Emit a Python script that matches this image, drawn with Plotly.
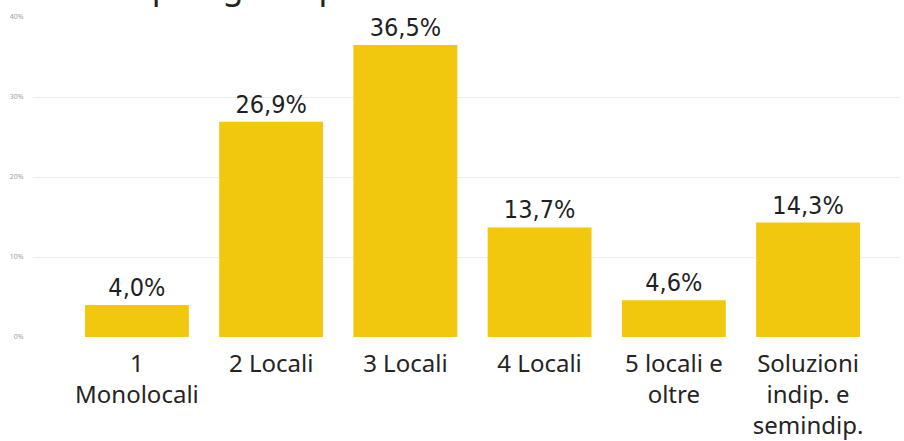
import plotly.graph_objects as go

categories = ["1<br>Monolocali", "2 Locali", "3 Locali", "4 Locali", "5 locali e<br>oltre", "Soluzioni<br>indip. e<br>semindip."]
values = [4.0, 26.9, 36.5, 13.7, 4.6, 14.3]
value_labels = ["4,0%", "26,9%", "36,5%", "13,7%", "4,6%", "14,3%"]
tick_vals = [0, 10, 20, 30, 40]
tick_text = ["0%", "10%", "20%", "30%", "40%"]
title_text = "Tipologia di prodotto richiesto"

fig = go.Figure(go.Bar(
    x=list(range(len(categories))),
    y=values,
    width=0.774,
    marker=dict(color="#F2C80F", line=dict(width=0)),
    text=value_labels,
    textposition="outside",
    textfont=dict(family="DejaVu Sans Condensed", size=25, color="#1F1F1F"),
    cliponaxis=False,
    hoverinfo="skip",
))

fig.add_annotation(
    text=title_text, xref="paper", yref="paper",
    x=(122 - 33) / 867, y=1, xanchor="left", yanchor="bottom",
    yshift=6, showarrow=False,
    font=dict(family="Noto Sans", size=34, color="#252423"),
)

fig.update_layout(
    width=904, height=441,
    margin=dict(l=33, r=4, t=17, b=104),
    paper_bgcolor="white", plot_bgcolor="white",
    showlegend=False,
    bargap=0.226,
    xaxis=dict(
        range=[-0.774, 5.685],
        tickmode="array", tickvals=list(range(len(categories))), ticktext=categories,
        tickfont=dict(family="Noto Sans", size=24, color="#252423"),
        showgrid=False, zeroline=False, showline=False,
        ticks="outside", ticklen=5, tickcolor="rgba(0,0,0,0)",
        automargin=False,
    ),
    yaxis=dict(
        range=[0, 40],
        tickmode="array", tickvals=tick_vals, ticktext=tick_text,
        tickfont=dict(family="Noto Sans", size=7, color="#A0A0A0"),
        showgrid=True, gridcolor="#EEEEEE", gridwidth=1,
        zeroline=False, showline=False,
        ticks="outside", ticklen=7, tickcolor="rgba(0,0,0,0)",
        automargin=False,
    ),
)

fig.write_html("out.html", post_script="document.body.style.margin='0';",
               config={"displayModeBar": False})
